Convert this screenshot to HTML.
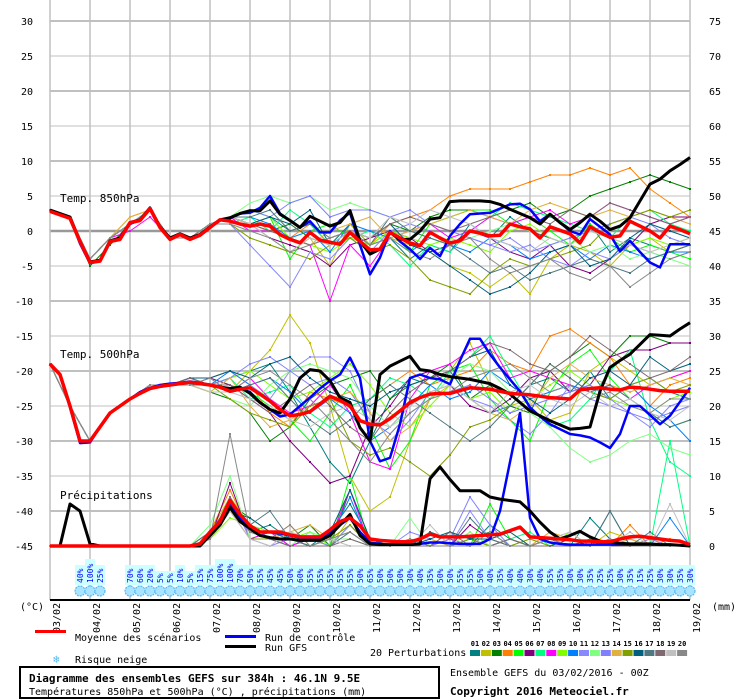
<!DOCTYPE html>
<html><head><meta charset="utf-8"><style>
html,body{margin:0;padding:0;background:#fff;}
svg{display:block;font-family:"DejaVu Sans Mono","Liberation Mono",monospace;}
</style></head><body>
<svg id="chart" width="740" height="700" viewBox="0 0 740 700" xmlns="http://www.w3.org/2000/svg">
<rect x="0" y="0" width="740" height="700" fill="#fff"/>
<g id="grid"></g>
<g id="snow"></g>
<g id="series"></g>
<g id="axes"></g>
<text x="60" y="202" font-size="11">Temp. 850hPa</text>
<text x="60" y="358" font-size="11">Temp. 500hPa</text>
<text x="60" y="499" font-size="11">Précipitations</text>
<text x="20" y="610" font-size="10">(°C)</text>
<text x="712" y="610" font-size="10">(mm)</text>
<g>
<rect x="35" y="630" width="31" height="3" fill="#ff0000"/>
<text x="75" y="641" font-size="10">Moyenne des scénarios</text>
<rect x="225" y="635" width="31" height="3" fill="#0000ff"/>
<text x="265" y="641" font-size="10">Run de contrôle</text>
<rect x="225" y="645" width="31" height="3" fill="#000"/>
<text x="265" y="651" font-size="10">Run GFS</text>
<text x="53" y="663" font-size="11" fill="#50b8f0">❄</text>
<text x="75" y="663" font-size="10">Risque neige</text>
<text x="370" y="656" font-size="10">20 Perturbations</text>
<g id="pertLegend"></g>
</g>
<rect x="20" y="667" width="419" height="31" fill="none" stroke="#000" stroke-width="2"/>
<text x="29" y="682" font-size="11" font-weight="bold">Diagramme des ensembles GEFS sur 384h : 46.1N 9.5E</text>
<text x="29" y="695" font-size="10">Températures 850hPa et 500hPa (°C) , précipitations (mm)</text>
<text x="450" y="676" font-size="10">Ensemble GEFS du 03/02/2016 - 00Z</text>
<text x="450" y="695" font-size="11" font-weight="bold">Copyright 2016 Meteociel.fr</text>
</svg>
<script>
const dates=["03/02","04/02","05/02","06/02","07/02","08/02","09/02","10/02","11/02","12/02","13/02","14/02","15/02","16/02","17/02","18/02","19/02"];
const leftTicks=[30,25,20,15,10,5,0,-5,-10,-15,-20,-25,-30,-35,-40,-45];
const rightTicks=[75,70,65,60,55,50,45,40,35,30,25,20,15,10,5,0];
const pertColors=["#008080","#c0c000","#008000","#ff8000","#00ff00","#800080","#00ff80","#ff00ff","#80ff00","#0080ff","#8888ff","#80ff80","#8080ff","#e0b040","#80a000","#006080","#507880","#806870","#c0c0c0","#888888"];
const snowPct=[40,100,25,null,null,70,60,20,5,5,10,5,15,75,100,100,70,50,55,45,45,50,60,55,55,55,55,55,50,65,50,50,50,30,40,35,50,50,55,55,50,40,35,40,40,30,40,55,35,30,30,35,25,25,30,35,15,25,30,30,35,30];
const mean850=[2.8,2.3,1.8,-1.5,-4.5,-4.3,-1.5,-1.2,1.2,1.5,3.2,0.5,-1.2,-0.5,-1.2,-0.6,0.5,1.6,1.4,1.0,0.7,1.0,0.7,-0.5,-1.2,-1.7,-0.2,-1.3,-1.6,-1.9,-0.2,-1.5,-2.7,-2.6,-0.2,-1.0,-1.7,-2.1,-0.2,-1.0,-1.7,-1.4,0,-0.3,-0.7,-0.6,1.0,0.6,0.3,-1,0.6,0.1,-0.4,-1.7,0.6,-0.2,-0.9,-0.7,1.4,0.7,0,-1,0.7,0.2,-0.4];
const ctrl850=[2.9,2.4,1.9,-1.8,-4.6,-4.3,-1.5,-1,1,1.6,3.3,0.6,-1,-0.4,-1.1,-0.5,0.5,1.5,1.8,2.5,2.6,3.3,5,2.5,1.5,0.5,1.4,-0.2,-0.2,1.5,2.6,-2,-6.2,-3.8,0,-1.5,-2.6,-4,-2.4,-3.6,-0.7,1,2.4,2.5,2.6,3.2,3.8,3.9,3.1,1.4,2.4,1.2,0,-0.5,1.7,0.6,-0.5,-2.9,-1.4,-3,-4.5,-5.2,-1.9,-1.9,-1.9];
const gfs850=[3.0,2.5,2.0,-1.5,-4.4,-4.2,-1.4,-1,1.2,1.6,3.3,0.6,-1,-0.4,-1,-0.5,0.6,1.6,1.9,2.5,2.9,2.9,4.3,2.4,1.5,0.5,2.1,1.4,0.7,1.2,2.9,-1.4,-3.3,-2.6,-0.2,-1.2,-1.2,0,1.7,1.9,4.2,4.3,4.3,4.3,4.2,3.8,3.1,2.5,1.9,1.0,2.4,1.2,0.2,1.2,2.4,1.4,0.2,0.7,1.9,4.3,6.7,7.4,8.6,9.5,10.5];
const mean500=[-19,-20.5,-25,-30,-30,-28,-26,-25,-24,-23.2,-22.5,-22.2,-22,-21.8,-21.6,-21.8,-22,-22.3,-22.9,-22.6,-22.4,-23.3,-24.3,-25.5,-26.4,-26.2,-25.8,-24.7,-23.6,-24.2,-25,-27.1,-27.6,-27.7,-26.8,-25.7,-24.5,-23.8,-23.3,-23.2,-23.2,-22.8,-22.4,-22.5,-22.6,-22.9,-23.2,-23.3,-23.4,-23.6,-23.8,-23.9,-24,-22.7,-22.5,-22.4,-22.6,-22.7,-22.3,-22.4,-22.6,-22.8,-22.9,-22.9,-22.9];
const ctrl500=[-19,-20.6,-25.2,-30.3,-30.2,-28,-26,-25,-24,-23,-22.4,-22,-21.8,-21.7,-21.5,-21.7,-22,-22.2,-22.8,-22.5,-23,-24.5,-25.5,-26.5,-26.2,-25,-23.8,-22.5,-21.4,-20.5,-18.1,-21,-30,-32.9,-32.4,-27.6,-21,-20.5,-21,-21.2,-21.9,-18.5,-15.4,-15.4,-17.6,-19.5,-21.2,-22.9,-25.2,-26.5,-27.6,-28.3,-29,-29.2,-29.5,-30.2,-31,-29,-25,-25,-26.3,-27.6,-26.4,-24.4,-22.4];
const gfs500=[-19,-20.5,-25,-30,-30,-28,-26,-25,-24,-23.2,-22.5,-22.2,-22,-21.8,-21.6,-21.8,-22,-22.3,-22.5,-22.3,-23.2,-24.5,-25.5,-26,-24,-21,-19.8,-20,-21.4,-23.8,-24.5,-28.1,-30,-20.5,-19.3,-18.6,-17.9,-19.8,-20,-20.5,-20.8,-21,-21.2,-21.5,-21.8,-22.5,-23.3,-24.5,-25.7,-26.4,-27.1,-27.7,-28.3,-28.2,-28,-22.9,-19.5,-18.5,-17.6,-16.2,-14.8,-14.9,-15,-14,-13.1];
const meanPrecip=[0,0,0,0,0,0,0,0,0,0,0,0,0,0,0,0.3,2,3.5,6.5,4.5,2.9,2,2,2,1.6,1.3,1.3,1.3,2.3,3.5,4,2.9,1,0.8,0.7,0.6,0.6,1.0,1.7,1.3,1.3,1.3,1.4,1.5,1.6,1.7,2.2,2.7,1.3,1.2,1.1,1,0.9,0.7,0.7,0.6,0.6,1,1.3,1.4,1.2,1,0.8,0.7,0.2];
const ctrlPrecip=[0,0,0,0,0,0,0,0,0,0,0,0,0,0,0,0,2,3.5,6,4,2.5,2,2,1.8,1.5,1.2,1,1,2,3,4,2,0.5,0.3,0.2,0.2,0.2,0.3,0.5,0.5,0.4,0.3,0.3,0.3,1,5,12,19,4,1,0.5,0.3,0.2,0.2,0.2,0.2,0.2,0.2,0.2,0.2,0.2,0.2,0.2,0.1,0];
const gfsPrecip=[0,0,6,5,0.3,0,0,0,0,0,0,0,0,0,0,0,1.5,3,5.5,3.5,2.5,1.5,1.2,1,1,0.8,0.8,0.8,1.5,3,4.5,1.5,0.3,0.2,0.2,0.2,0.2,0.3,9.6,11.3,9.5,7.9,7.9,7.9,7,6.7,6.5,6.3,5,3.4,2,1,1.5,2.1,1.3,0.7,0.5,0.4,0.3,0.3,0.3,0.2,0.2,0.1,0];
const p850_01=[3,2,-4,-1,1,3,-1,-1,1,2,1,2,0,1,-2,1,-2,-1,-4,-2,-3,1,-1,2,0,-1,-2,1,-3,-1,-2,-3,-2];
const p850_02=[3,2,-4,-1,1,3,-1,-1,1,1,-1,-2,-3,-1,-5,1,-2,-1,-2,-3,-5,-6,-8,-6,-9,-4,-2,-3,-5,-2,-1,-3,-2];
const p850_03=[3,2,-5,-2,1,3,-1,-1,1,2,1,0,1,-1,-2,0,-1,1,0,2,3,3,2,3,4,2,3,5,6,7,8,7,6];
const p850_04=[3,2,-4,-1,2,3,-1,-1,1,2,1,0,-1,1,-2,0,-2,1,2,3,5,6,6,6,7,8,8,9,8,9,6,4,2];
const p850_05=[3,2,-4,-1,1,3,-1,-1,1,2,3,2,-4,0,1,-1,-2,0,-3,1,2,3,3,1,2,0,-2,1,-1,-3,-2,-3,-4];
const p850_06=[3,2,-4,-1,1,3,-1,-1,1,2,1,-1,-2,-3,-5,-2,-1,0,-1,-3,-2,0,-1,-3,-4,-2,-5,-6,-4,-2,1,2,2];
const p850_07=[3,2,-4,-1,1,3,-1,-1,1,1,2,0,3,1,-2,-1,0,-2,-5,-2,-3,0,2,4,3,2,1,0,-1,2,3,1,0];
const p850_08=[3,2,-4,-1,0,2,-1,-1,1,2,0,0,-1,-2,-10,-2,-5,-1,0,1,-1,0,2,1,2,3,1,2,4,3,2,1,2];
const p850_09=[3,2,-4,-1,1,3,-1,-1,1,2,1,2,-1,-2,-3,-1,-2,0,-1,-2,-1,-2,-3,0,1,-1,-2,0,-1,-2,-1,-2,-1];
const p850_10=[3,2,-4,-1,1,3,-1,-1,1,2,2,1,-1,0,-3,1,0,-1,-3,-1,-2,-3,-1,-2,-4,-3,-2,-4,-2,-3,-4,-3,-3];
const p850_11=[3,2,-4,-1,1,3,-1,-1,1,1,-2,-5,-8,-3,-4,-1,-3,0,1,0,-2,-1,-2,-3,-2,-4,-5,-3,-4,-2,-3,-4,-3];
const p850_12=[3,2,-4,-1,1,3,-1,-1,1,2,4,5,4,5,3,4,3,2,0,-1,-2,-1,0,1,0,-2,-1,-3,-2,-4,-3,-4,-5];
const p850_13=[3,2,-4,-1,1,3,-1,-1,1,2,3,2,4,5,2,3,3,2,3,1,0,-1,-2,-1,-3,-2,-1,0,1,2,1,-1,-2];
const p850_14=[3,2,-4,-1,2,3,-1,-1,1,2,1,0,-1,-2,0,1,2,-1,0,1,2,3,2,1,3,4,3,2,3,2,3,2,1];
const p850_15=[3,2,-4,-1,1,3,-1,-1,1,1,-1,-2,-3,-4,-2,-1,-3,-2,-4,-7,-8,-9,-6,-4,-5,-4,-3,-2,1,2,3,2,3];
const p850_16=[3,2,-4,-1,1,3,-1,-1,1,2,1,2,1,3,-2,0,-1,1,-2,-3,-5,-7,-9,-8,-6,-3,-2,-5,-4,-1,1,0,-1];
const p850_17=[3,2,-4,-1,1,3,-1,-1,1,2,2,3,0,1,-1,0,-2,2,0,-1,-2,-4,-6,-5,-7,-6,-5,-4,-5,-6,-4,-3,-2];
const p850_18=[3,2,-4,-1,1,3,-1,-1,1,2,1,0,-1,-2,-1,0,-1,1,2,1,0,1,2,3,2,1,3,2,4,3,2,1,2];
const p850_19=[3,2,-4,-1,1,3,-1,-1,1,2,1,-1,-3,-1,-2,0,-1,2,1,3,2,1,-1,-2,-3,-1,-2,0,-1,-2,-3,-2,-1];
const p850_20=[3,2,-4,-1,1,3,-1,-1,1,1,0,-1,-3,-2,-1,0,-2,-1,-3,-4,-2,-1,-4,-6,-5,-4,-6,-7,-5,-8,-6,-4,-3];
const p500_01=[-19,-25,-30,-26,-24,-22,-22,-21,-22,-21,-20,-19,-23,-28,-33,-36,-30,-24,-21,-22,-20,-24,-26,-25,-22,-21,-23,-20,-24,-22,-21,-23,-24];
const p500_02=[-19,-25,-30,-26,-24,-22,-22,-21,-22,-23,-20,-17,-12,-16,-25,-35,-40,-38,-30,-24,-20,-16,-22,-25,-24,-27,-26,-20,-18,-20,-22,-21,-20];
const p500_03=[-19,-25,-30,-26,-24,-22,-22,-22,-23,-24,-26,-30,-28,-24,-22,-21,-20,-24,-22,-21,-19,-24,-22,-25,-26,-20,-18,-16,-18,-15,-15,-16,-16];
const p500_04=[-19,-25,-30,-26,-24,-22,-22,-21,-21,-20,-22,-26,-28,-23,-24,-25,-24,-22,-20,-22,-21,-20,-17,-19,-20,-15,-14,-16,-18,-22,-25,-22,-21];
const p500_05=[-19,-25,-30,-26,-24,-22,-22,-21,-22,-22,-23,-25,-27,-30,-26,-22,-28,-34,-30,-22,-20,-19,-24,-27,-30,-23,-19,-17,-21,-24,-26,-28,-27];
const p500_06=[-19,-25,-30,-26,-24,-22,-22,-22,-21,-22,-24,-26,-30,-33,-36,-35,-28,-25,-21,-20,-22,-25,-26,-24,-21,-20,-23,-22,-18,-17,-17,-16,-16];
const p500_07=[-19,-25,-30,-26,-24,-22,-22,-21,-22,-21,-24,-23,-22,-26,-28,-25,-24,-21,-22,-24,-20,-18,-15,-20,-25,-28,-27,-24,-20,-17,-27,-33,-35];
const p500_08=[-19,-25,-30,-26,-24,-22,-22,-21,-22,-23,-21,-24,-26,-25,-22,-26,-33,-34,-24,-20,-19,-17,-16,-21,-20,-21,-22,-23,-22,-24,-22,-21,-20];
const p500_09=[-19,-25,-30,-26,-24,-22,-22,-22,-23,-21,-20,-22,-24,-23,-21,-19,-22,-26,-28,-25,-22,-24,-23,-26,-24,-22,-20,-22,-24,-25,-26,-24,-23];
const p500_10=[-19,-25,-30,-26,-24,-22,-22,-21,-22,-20,-22,-21,-23,-26,-24,-26,-30,-28,-25,-22,-24,-23,-20,-22,-24,-23,-22,-23,-24,-22,-25,-27,-30];
const p500_11=[-19,-25,-30,-26,-24,-22,-22,-21,-21,-23,-22,-24,-20,-18,-18,-20,-26,-30,-27,-23,-22,-24,-25,-27,-29,-26,-22,-24,-25,-26,-28,-25,-24];
const p500_12=[-19,-25,-30,-26,-24,-22,-22,-22,-22,-24,-25,-22,-20,-19,-20,-21,-25,-28,-26,-24,-21,-19,-20,-23,-26,-28,-31,-33,-32,-30,-29,-31,-32];
const p500_13=[-19,-25,-30,-26,-24,-22,-22,-21,-22,-21,-19,-18,-20,-22,-21,-23,-27,-29,-26,-24,-23,-22,-24,-26,-25,-24,-23,-22,-24,-26,-27,-26,-25];
const p500_14=[-19,-25,-30,-26,-24,-22,-22,-22,-23,-21,-25,-28,-27,-25,-24,-23,-26,-30,-28,-24,-22,-24,-26,-27,-25,-21,-19,-21,-22,-23,-22,-21,-22];
const p500_15=[-19,-25,-30,-26,-24,-22,-22,-21,-22,-24,-26,-27,-28,-25,-24,-30,-32,-31,-33,-35,-32,-28,-27,-25,-22,-19,-21,-23,-24,-22,-21,-23,-22];
const p500_16=[-19,-25,-30,-26,-24,-22,-22,-21,-21,-20,-21,-19,-18,-21,-23,-24,-25,-23,-22,-21,-20,-18,-17,-22,-24,-26,-24,-21,-20,-22,-18,-20,-19];
const p500_17=[-19,-25,-30,-26,-24,-22,-22,-22,-22,-23,-22,-21,-24,-27,-29,-27,-24,-22,-24,-26,-28,-30,-28,-25,-22,-19,-21,-23,-22,-24,-26,-28,-27];
const p500_18=[-19,-25,-30,-26,-24,-22,-22,-21,-22,-22,-24,-26,-24,-22,-25,-28,-30,-26,-23,-21,-20,-18,-16,-17,-19,-20,-18,-15,-17,-19,-21,-20,-18];
const p500_19=[-19,-25,-30,-26,-24,-22,-22,-22,-23,-23,-24,-25,-27,-28,-26,-25,-27,-28,-25,-23,-22,-24,-26,-23,-22,-24,-25,-23,-25,-24,-26,-27,-25];
const p500_20=[-19,-25,-30,-26,-24,-22,-22,-22,-21,-23,-21,-20,-22,-24,-27,-30,-33,-29,-26,-24,-23,-21,-20,-19,-21,-23,-22,-24,-23,-25,-26,-24,-24];
const pp_01=[0,0,0,0,0,0,0,0,1,5,2,3,1,0,2,6,1,0,0,2,1,0,3,1,0,0,0,4,1,0,0,0,0];
const pp_02=[0,0,0,0,0,0,0,0,2,7,3,1,2,1,0,4,0,0,1,0,1,0,1,2,0,1,0,0,2,1,0,1,0];
const pp_03=[0,0,0,0,0,0,0,0,1,6,4,2,1,3,0,8,1,0,0,0,0,1,2,0,0,1,0,0,1,0,0,0,0];
const pp_04=[0,0,0,0,0,0,0,0,2,8,2,1,3,0,1,3,0,0,0,0,2,1,0,1,0,2,1,0,0,3,0,1,0];
const pp_05=[0,0,0,0,0,0,0,0,1,5,3,1,0,1,0,10,0,0,0,0,1,0,6,1,0,0,0,0,1,0,0,0,0];
const pp_06=[0,0,0,0,0,0,0,0,1,9,1,2,0,1,2,4,0,0,0,0,0,3,1,0,0,1,0,0,0,0,0,0,0];
const pp_07=[0,0,0,0,0,0,0,0,2,6,2,1,1,0,1,2,0,0,1,0,0,1,0,1,2,0,0,0,0,0,0,15,0];
const pp_08=[0,0,0,0,0,0,0,0,1,5,1,2,0,1,1,8,0,0,0,0,1,0,0,0,0,0,0,0,0,0,0,0,0];
const pp_09=[0,0,0,0,0,0,0,0,1,4,3,2,1,2,0,3,0,0,0,1,0,2,0,1,0,0,2,0,0,0,1,0,0];
const pp_10=[0,0,0,0,0,0,0,0,2,6,2,1,1,0,1,7,0,0,0,0,0,0,0,1,0,0,0,0,0,1,0,4,0];
const pp_11=[0,0,0,0,0,0,0,0,1,7,1,0,1,1,0,2,0,0,2,1,0,5,1,0,0,0,0,0,1,0,0,0,0];
const pp_12=[0,0,0,0,0,0,0,0,3,10,1,1,0,2,1,1,0,0,4,0,0,2,0,0,1,0,0,0,0,1,0,0,0];
const pp_13=[0,0,0,0,0,0,0,0,1,5,2,1,0,0,0,3,0,0,0,0,1,7,3,0,0,0,0,0,0,0,1,0,0];
const pp_14=[0,0,0,0,0,0,0,0,1,6,2,1,2,3,1,2,0,0,0,1,0,0,1,0,0,2,1,0,0,1,0,0,0];
const pp_15=[0,0,0,0,0,0,0,0,2,5,1,1,1,0,1,3,0,0,1,0,0,1,0,0,1,0,0,1,0,0,0,0,0];
const pp_16=[0,0,0,0,0,0,0,0,1,5,4,2,1,1,2,8,1,0,0,1,2,1,1,2,0,0,1,0,5,0,0,0,0];
const pp_17=[0,0,0,0,0,0,0,0,2,6,3,5,1,0,0,2,0,0,0,0,0,4,1,0,0,1,0,0,5,0,2,0,0];
const pp_18=[0,0,0,0,0,0,0,0,1,7,2,1,0,0,0,1,0,0,0,0,2,0,0,1,0,0,0,0,0,0,0,0,0];
const pp_19=[0,0,0,0,0,0,0,0,1,5,1,0,2,1,1,0,0,0,0,3,0,0,0,0,0,1,2,0,0,2,0,6,0];
const pp_20=[0,0,0,0,0,0,0,0,1,16,2,1,3,0,1,2,0,0,1,0,0,0,2,0,0,1,0,0,1,0,0,0,0];

const p850=[p850_01,p850_02,p850_03,p850_04,p850_05,p850_06,p850_07,p850_08,p850_09,p850_10,p850_11,p850_12,p850_13,p850_14,p850_15,p850_16,p850_17,p850_18,p850_19,p850_20];
const p500=[p500_01,p500_02,p500_03,p500_04,p500_05,p500_06,p500_07,p500_08,p500_09,p500_10,p500_11,p500_12,p500_13,p500_14,p500_15,p500_16,p500_17,p500_18,p500_19,p500_20];
const pp=[pp_01,pp_02,pp_03,pp_04,pp_05,pp_06,pp_07,pp_08,pp_09,pp_10,pp_11,pp_12,pp_13,pp_14,pp_15,pp_16,pp_17,pp_18,pp_19,pp_20];

const NS="http://www.w3.org/2000/svg";
const X0=50,X1=690,HOURS=384;
function xH(h){return X0+h*(X1-X0)/HOURS;}
function yT(v){return 231-7*v;}
function yP(mm){return 546-7*mm;}
function mk(tag,attrs,parent){const e=document.createElementNS(NS,tag);for(const k in attrs)e.setAttribute(k,attrs[k]);parent.appendChild(e);return e;}
const grid=document.getElementById('grid'),axes=document.getElementById('axes'),series=document.getElementById('series'),snow=document.getElementById('snow');

leftTicks.forEach((v,i)=>{
  const y=yT(v);
  const major=(v%10===0);
  const l=mk('line',{x1:X0,x2:X1,y1:y,y2:y,stroke:v===0?'#999':'#c0c0c0','stroke-width':v===0?2.5:(major?2:1)},grid);
  
  
  const t=mk('text',{x:33,y:y+4,'font-size':10,'text-anchor':'end'},axes);
  t.textContent=v;
  
  
  const t2=mk('text',{x:709,y:y+4,'font-size':10},axes);
  t2.textContent=rightTicks[i];
  
  
});
dates.forEach((d,i)=>{
  const x=xH(i*24);
  const l=mk('line',{x1:x,x2:x,y1:0,y2:600,stroke:'#c0c0c0','stroke-width':1.5},grid);
  
  
  const t=mk('text',{x:0,y:0,'font-size':10,transform:`translate(${x+10},633) rotate(-90)`},axes);
  t.textContent=d;
  
  
});
const ax=mk('line',{x1:X0,x2:X1,y1:600,y2:600,stroke:'#000','stroke-width':2},axes);



snowPct.forEach((p,k)=>{
  if(p===null)return;
  const cx=xH(18+6*k);
  const label=p+'%';
  const h=label.length*6+2;
  const r=mk('rect',{x:cx-5,y:585-h,width:10,height:h,fill:'#ccffff'},snow);
  
  
  const t=mk('text',{x:0,y:0,'font-size':8,fill:'#0000ff',transform:`translate(${cx+3},583) rotate(-90)`},snow);
  t.textContent=label;
  
  
  const c=mk('circle',{cx:cx,cy:591,r:5,fill:'#a8e4ff',stroke:'#5ab8f0','stroke-width':1.2,'stroke-dasharray':'2 1'},snow);
  
  
});

function poly(vals,stepH,yf,color,w,name,dots){
  const pts=vals.map((v,i)=>xH(i*stepH).toFixed(1)+','+yf(v).toFixed(1)).join(' ');
  const p=mk('polyline',{points:pts,fill:'none',stroke:color,'stroke-width':w,'stroke-linejoin':'round'},series);
  
  
  if(dots){vals.forEach((v,i)=>{const r=mk('rect',{x:xH(i*stepH)-1,y:yf(v)-1,width:2,height:2,fill:color},series);
    
    });}
}
for(let m=0;m<20;m++){
  poly(pp[m],12,yP,pertColors[m],1,'precip-member-'+(m+1),true);
  poly(p500[m],12,yT,pertColors[m],1,'t500-member-'+(m+1),true);
  poly(p850[m],12,yT,pertColors[m],1,'t850-member-'+(m+1),true);
}
poly(ctrlPrecip,6,yP,'#0000ff',2.5,'precip-control',false);
poly(gfsPrecip,6,yP,'#000',3,'precip-gfs',false);
poly(ctrl500,6,yT,'#0000ff',2.5,'t500-control',false);
poly(gfs500,6,yT,'#000',3,'t500-gfs',false);
poly(ctrl850,6,yT,'#0000ff',2.5,'t850-control',false);
poly(gfs850,6,yT,'#000',3,'t850-gfs',false);
poly(meanPrecip,6,yP,'#ff0000',3.5,'precip-mean',false);
poly(mean500,6,yT,'#ff0000',3.5,'t500-mean',false);
poly(mean850,6,yT,'#ff0000',3.5,'t850-mean',false);

const pl=document.getElementById('pertLegend');
pertColors.forEach((c,i)=>{
  const x=470+i*10.9;
  const r=mk('rect',{x:x,y:650,width:10,height:6,fill:c},pl);
  
  
  const t=mk('text',{x:x+5,y:646,'font-size':7,'font-weight':'bold','text-anchor':'middle'},pl);
  t.textContent=String(i+1).padStart(2,'0');
  
  
});
</script>
</body></html>
